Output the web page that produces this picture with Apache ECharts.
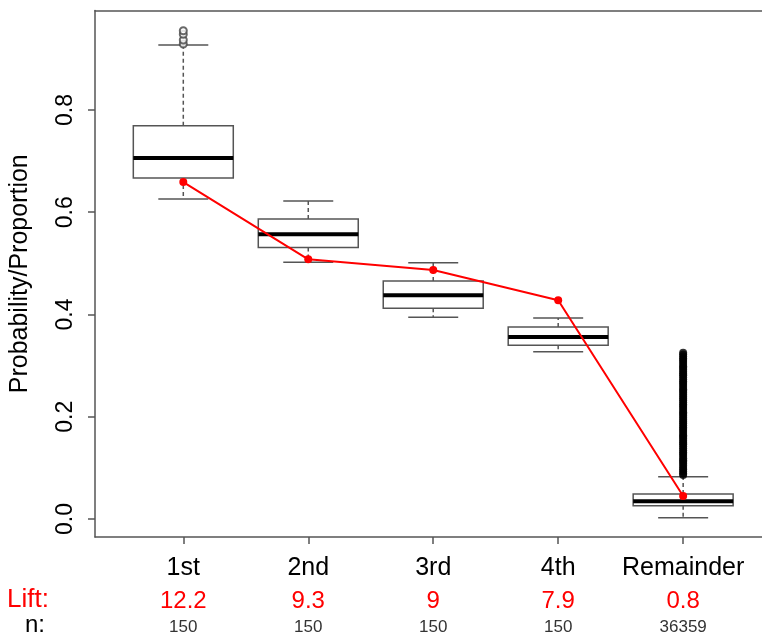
<!DOCTYPE html>
<html>
<head>
<meta charset="utf-8">
<script src="https://cdn.jsdelivr.net/npm/echarts@6/dist/echarts.min.js"></script>
<style>
html,body{margin:0;padding:0;background:#fff;}
#chart{width:762px;height:637px;}
</style>
</head>
<body>
<div id="chart"></div>
<script>
// ---- data ----
var categories = ['1st', '2nd', '3rd', '4th', 'Remainder'];
var liftLabels = ['12.2', '9.3', '9', '7.9', '0.8'];
var countLabels = ['150', '150', '150', '150', '36359'];
var whiskerLow  = [0.626, 0.502, 0.3945, 0.327, 0.0026];
var q1          = [0.667, 0.531, 0.412, 0.340, 0.026];
var median      = [0.706, 0.557, 0.4375, 0.356, 0.0346];
var q3          = [0.769, 0.587, 0.4655, 0.3755, 0.0489];
var whiskerHigh = [0.927, 0.622, 0.501, 0.393, 0.0828];
var proportion  = [0.659, 0.508, 0.487, 0.428, 0.045];
var outliers1st = [0.929, 0.937, 0.948, 0.955];
var outliersRemainder = [0.086, 0.089, 0.093, 0.097, 0.100, 0.104, 0.108, 0.112, 0.115, 0.119,
  0.123, 0.127, 0.130, 0.134, 0.138, 0.142, 0.146, 0.149, 0.153, 0.157, 0.161, 0.164, 0.168,
  0.172, 0.176, 0.179, 0.183, 0.187, 0.190, 0.194, 0.198, 0.202, 0.206, 0.209, 0.213, 0.217,
  0.221, 0.224, 0.228, 0.232, 0.235, 0.239, 0.243, 0.247, 0.251, 0.254, 0.258, 0.262, 0.266,
  0.269, 0.273, 0.277, 0.281, 0.284, 0.288, 0.292, 0.296, 0.299, 0.303, 0.307, 0.311, 0.314,
  0.318, 0.322, 0.325];
var yTicks = [0, 0.2, 0.4, 0.6, 0.8];
var xPositions = [1, 2, 3, 4, 5];

// ---- chart ----
var chart = echarts.init(document.getElementById('chart'), null, {renderer: 'canvas'});
var FONT = '"Liberation Sans", Arial, sans-serif';
var AX = '#555';

var boxData = categories.map(function (c, i) {
  return [xPositions[i], whiskerLow[i], q1[i], median[i], q3[i], whiskerHigh[i]];
});

function renderBox(params, api) {
  var x = api.value(0);
  var pMin = api.coord([x, api.value(1)]);
  var pQ1 = api.coord([x, api.value(2)]);
  var pMed = api.coord([x, api.value(3)]);
  var pQ3 = api.coord([x, api.value(4)]);
  var pMax = api.coord([x, api.value(5)]);
  var half = api.size([0.4, 0])[0];
  var staple = api.size([0.2, 0])[0];
  var cx = pMed[0];
  var lineStyle = {stroke: AX, lineWidth: 1.5};
  var dashStyle = {stroke: AX, lineWidth: 1.5, lineDash: [4, 3]};
  return {
    type: 'group',
    children: [
      {type: 'line', shape: {x1: cx, y1: pQ3[1], x2: cx, y2: pMax[1]}, style: dashStyle},
      {type: 'line', shape: {x1: cx, y1: pQ1[1], x2: cx, y2: pMin[1]}, style: dashStyle},
      {type: 'line', shape: {x1: cx - staple, y1: pMax[1], x2: cx + staple, y2: pMax[1]}, style: lineStyle},
      {type: 'line', shape: {x1: cx - staple, y1: pMin[1], x2: cx + staple, y2: pMin[1]}, style: lineStyle},
      {type: 'rect', shape: {x: cx - half, y: pQ3[1], width: 2 * half, height: pQ1[1] - pQ3[1]},
        style: {fill: '#fff', stroke: AX, lineWidth: 1.5}},
      {type: 'line', shape: {x1: cx - half, y1: pMed[1], x2: cx + half, y2: pMed[1]},
        style: {stroke: '#000', lineWidth: 4}}
    ]
  };
}

var xBase = {
  type: 'value', min: 0.2934, max: 5.631, position: 'bottom',
  splitLine: {show: false}, axisLine: {show: false, onZero: false}
};

var option = {
  backgroundColor: '#fff',
  animation: false,
  grid: {left: 93.5, top: 10.5, right: 0, height: 526.5, show: false},
  xAxis: [
    Object.assign({}, xBase, {
      axisLine: {show: true, onZero: false, lineStyle: {color: AX, width: 1.5}},
      axisTick: {show: true, length: 7, lineStyle: {color: AX, width: 1.5}, customValues: xPositions},
      axisLabel: {customValues: xPositions, margin: 19, fontSize: 25, color: '#000', fontFamily: FONT,
        formatter: function (v) { return categories[Math.round(v) - 1] || ''; }}
    }),
    Object.assign({}, xBase, {
      axisTick: {show: false},
      axisLabel: {customValues: xPositions, margin: 52, fontSize: 24, color: '#ff0000', fontFamily: FONT,
        formatter: function (v) { return liftLabels[Math.round(v) - 1] || ''; }}
    }),
    Object.assign({}, xBase, {
      axisTick: {show: false},
      axisLabel: {customValues: xPositions, margin: 82, fontSize: 17, color: '#333', fontFamily: FONT,
        formatter: function (v) { return countLabels[Math.round(v) - 1] || ''; }}
    }),
    Object.assign({}, xBase, {
      position: 'top',
      axisLine: {show: true, onZero: false, lineStyle: {color: AX, width: 1.5}},
      axisTick: {show: false}, axisLabel: {show: false}
    })
  ],
  yAxis: {
    type: 'value', min: -0.0352, max: 0.9946,
    name: 'Probability/Proportion', nameLocation: 'middle', nameRotate: 90, nameGap: 62,
    nameTextStyle: {fontSize: 25, color: '#000', fontFamily: FONT},
    splitLine: {show: false},
    axisLine: {show: true, onZero: false, lineStyle: {color: AX, width: 1.5}},
    axisTick: {show: true, length: 7, lineStyle: {color: AX, width: 1.5}, customValues: yTicks},
    axisLabel: {customValues: yTicks, rotate: 90, margin: 18, fontSize: 23, color: '#000', fontFamily: FONT,
      formatter: function (v) { return v.toFixed(1); }}
  },
  graphic: [
    {type: 'text', left: 7, top: 587, style: {text: 'Lift:', fill: '#ff0000', font: '26px ' + FONT}},
    {type: 'text', left: 25, top: 613, style: {text: 'n:', fill: '#000', font: '24px ' + FONT}}
  ],
  series: [
    {type: 'custom', renderItem: renderBox, data: boxData, xAxisIndex: 0, z: 2,
      encode: {x: 0, y: [1, 2, 3, 4, 5]}},
    {type: 'scatter', data: outliers1st.map(function (v) { return [1, v]; }), symbol: 'emptyCircle',
      symbolSize: 7, itemStyle: {color: '#444', borderColor: '#444', borderWidth: 1.2}, z: 3},
    {type: 'scatter', data: outliersRemainder.map(function (v) { return [5, v]; }), symbol: 'circle',
      symbolSize: 8, itemStyle: {color: '#000'}, z: 3},
    {type: 'line', data: proportion.map(function (v, i) { return [xPositions[i], v]; }),
      symbol: 'circle', symbolSize: 8, lineStyle: {color: '#ff0000', width: 2},
      itemStyle: {color: '#ff0000'}, z: 5}
  ]
};
chart.setOption(option);
</script>
</body>
</html>
